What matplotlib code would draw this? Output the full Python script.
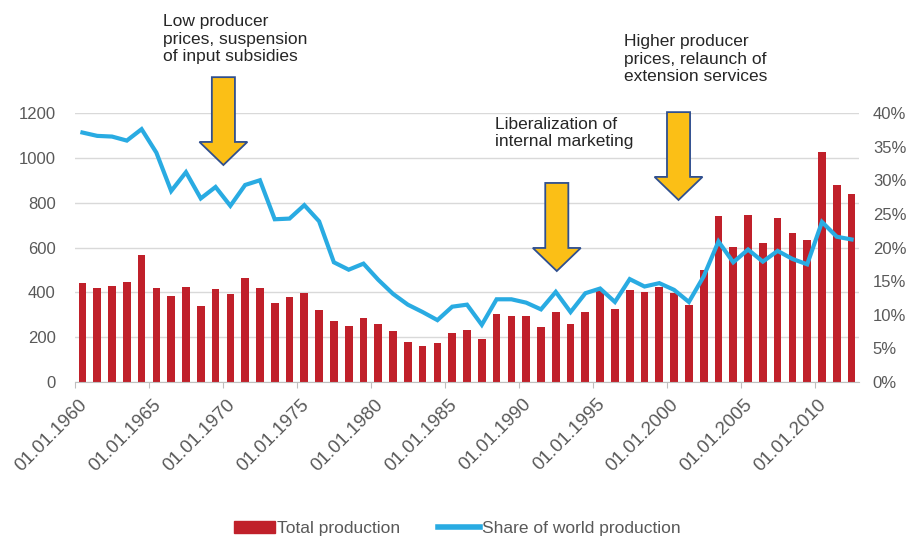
import matplotlib.pyplot as plt
import matplotlib.transforms as mtransforms
from matplotlib.patches import Polygon, Patch
from matplotlib.lines import Line2D
from matplotlib.ticker import FuncFormatter

plt.rcParams['font.family'] = ['Liberation Sans', 'DejaVu Sans']

# data
years = list(range(1960, 2013))
production = [442, 418, 430, 445, 568, 418, 384, 423, 339, 417,
              393, 466, 420, 351, 378, 399, 321, 271, 251, 287,
              259, 228, 180, 162, 176, 220, 231, 192, 302, 296,
              296, 246, 314, 257, 312, 408, 326, 412, 402, 426,
              397, 344, 500, 740, 603, 743, 618, 732, 664, 634,
              1028, 881, 838]
share = [37.1, 36.6, 36.5, 35.9, 37.6, 34.1, 28.4, 31.2, 27.3, 29.0,
         26.2, 29.3, 30.0, 24.2, 24.3, 26.3, 23.9, 17.8, 16.7, 17.6,
         15.2, 13.1, 11.5, 10.4, 9.2, 11.2, 11.5, 8.5, 12.3, 12.3,
         11.8, 10.8, 13.4, 10.4, 13.2, 13.9, 11.9, 15.3, 14.2, 14.7,
         13.7, 11.9, 15.7, 20.9, 17.8, 19.7, 17.9, 19.5, 18.3, 17.5,
         23.8, 21.6, 21.2]
label_years = list(range(1960, 2011, 5))

# annotations: (text, year of arrow, arrow top, arrow tip, text x year, text top)
notes = [
    ("Low producer\nprices, suspension\nof input subsidies", 1969.53, 1360, 968, 1965.45, 1640),
    ("Liberalization of\ninternal marketing", 1992.07, 888, 495, 1987.9, 1182),
    ("Higher producer\nprices, relaunch of\nextension services", 2000.3, 1204, 812, 1996.6, 1552),
]

bar_color = '#C0202A'
line_color = '#29ABE2'
grey = '#595959'

fig = plt.figure(figsize=(9.14, 5.40), dpi=100)
ax = fig.add_axes([0.0821, 0.2926, 0.8577, 0.4981])
ax2 = ax.twinx()

x = [y - 1960 for y in years]
ax.bar(x, production, width=0.52, color=bar_color, zorder=2)
ax2.plot(x, [s / 100 for s in share], color=line_color, lw=3.0,
         solid_joinstyle='miter', zorder=3)

ax.set_xlim(-0.5, len(years) - 0.5)
ax.set_ylim(0, 1200)
ax.set_yticks(range(0, 1201, 200))
ax2.set_ylim(0, 0.40)
ax2.set_yticks([i * 0.05 for i in range(9)])
ax2.yaxis.set_major_formatter(FuncFormatter(lambda v, p: f"{v * 100:.0f}%"))

ax.grid(axis='y', color='#d9d9d9', lw=1.0, zorder=0)
ax.set_axisbelow(True)

for a in (ax, ax2):
    for s in ('top', 'left', 'right'):
        a.spines[s].set_visible(False)
ax2.spines['bottom'].set_visible(False)
ax.spines['bottom'].set_color('#bfbfbf')

ax.set_xticks([y - 1960 - 0.5 for y in label_years])
ax.set_xticklabels([f"01.01.{y}" for y in label_years], rotation=45,
                   ha='right', va='top', rotation_mode='anchor')
ax.tick_params(axis='x', colors='#bfbfbf', length=4, labelcolor=grey,
               labelsize=13.5, pad=6)
shift = mtransforms.ScaledTranslation(2.5 / 72, 0, fig.dpi_scale_trans)
for lab in ax.get_xticklabels():
    lab.set_transform(lab.get_transform() + shift)
ax.tick_params(axis='y', length=0, labelcolor=grey, labelsize=12, pad=14)
ax2.tick_params(axis='y', length=0, labelcolor=grey, labelsize=12, pad=10)

# arrows and texts
for text, ay, top, tip, tx, ty in notes:
    c = ay - 1960
    shaft, head = 0.78, 1.62
    neck = tip + 103
    pts = [(c - shaft, top), (c + shaft, top), (c + shaft, neck),
           (c + head, neck), (c, tip), (c - head, neck), (c - shaft, neck)]
    ax2.add_patch(Polygon(pts, closed=True, facecolor='#FBBF16',
                          edgecolor='#2F4F8F', lw=1.3, zorder=4,
                          transform=ax.transData, clip_on=False))
    ax.text(tx - 1960, ty, text, ha='left', va='top', fontsize=12.5,
            color='#262626', linespacing=1.2, clip_on=False)

handles = [Patch(facecolor=bar_color, edgecolor=bar_color),
           Line2D([], [], color=line_color, lw=4)]
fig.legend(handles, ["Total production", "Share of world production"],
           loc='lower center', bbox_to_anchor=(0.5, -0.022), ncol=2,
           frameon=False, fontsize=12.5, handlelength=2.4,
           handletextpad=0.1, columnspacing=2.2, labelcolor=grey)

fig.savefig('out.png', dpi=100)
